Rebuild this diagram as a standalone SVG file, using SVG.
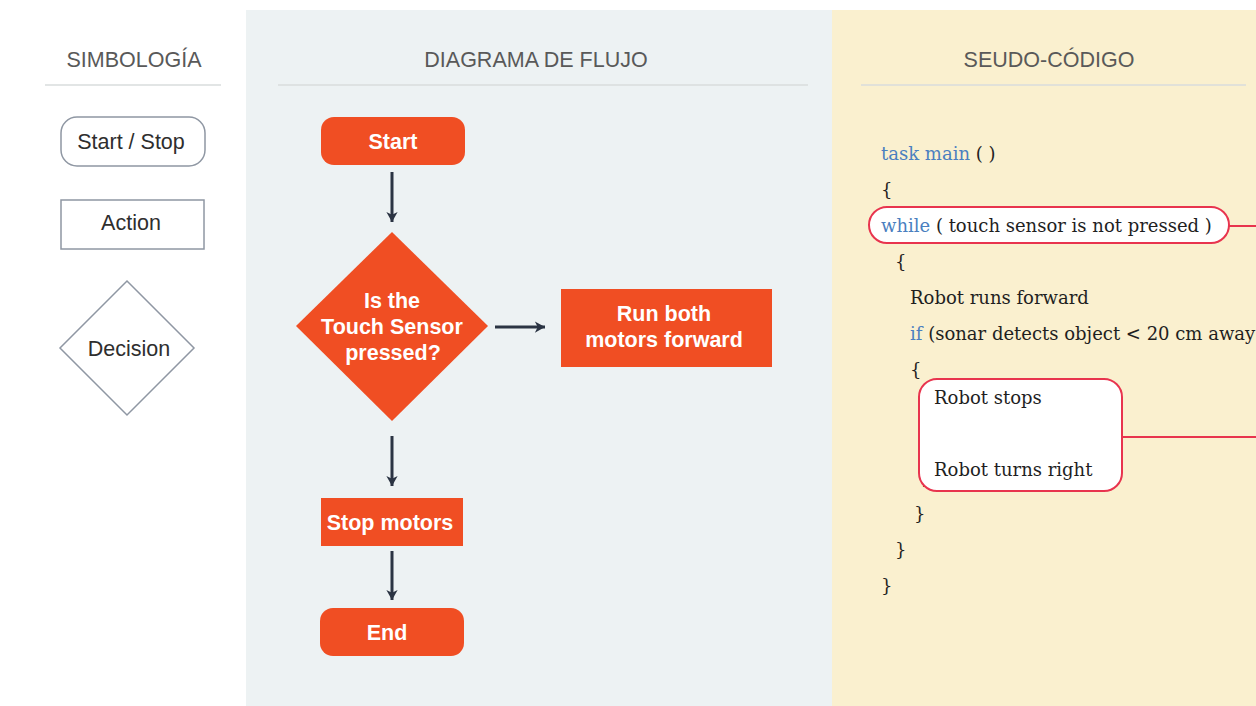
<svg xmlns="http://www.w3.org/2000/svg" width="1256" height="706" viewBox="0 0 1256 706">
  <style>
    .head { font-family: "Liberation Sans", Arial, sans-serif; font-size: 21.5px; fill: #595959; text-anchor: middle; }
    .rule { stroke: #d9dcdd; stroke-width: 1.5; }
    .legend-shape { fill: #ffffff; stroke: #8f97a3; stroke-width: 1.5; }
    .legend-text { font-family: "Liberation Sans", Arial, sans-serif; font-size: 21.5px; fill: #2e2e2e; text-anchor: middle; }
    .node { fill: #f04e23; }
    .node-text { font-family: "Liberation Sans", Arial, sans-serif; font-size: 21.5px; font-weight: bold; fill: #ffffff; text-anchor: middle; }
    .edge { stroke: #2b3443; stroke-width: 3; fill: none; marker-end: url(#arrow); }
    .code { font-family: "DejaVu Serif", "Liberation Serif", serif; font-size: 18px; fill: #1f1f1f; }
    .kw { fill: #4a7fc0; }
    .hl { fill: #ffffff; stroke: #e8344e; stroke-width: 2; }
    .hl-link { stroke: #e8344e; stroke-width: 2; }
  </style>
  <defs>
    <marker id="arrow" viewBox="0 0 12 12" refX="10" refY="6" markerWidth="4.5" markerHeight="4.5" markerUnits="strokeWidth" orient="auto">
      <path d="M1,1 L10,6 L1,11 L3.5,6 Z" fill="#2b3443"/>
    </marker>
  </defs>

  <!-- page background and panels -->
  <rect x="0" y="0" width="1256" height="706" fill="#ffffff"/>
  <rect x="246" y="10" width="586" height="696" fill="#edf2f3"/>
  <rect x="832" y="10" width="424" height="696" fill="#faf0cf"/>

  <!-- column headers -->
  <g id="headers">
    <text class="head" x="134" y="67">SIMBOLOGÍA</text>
    <line class="rule" x1="45" y1="85" x2="221" y2="85"/>
    <text class="head" x="536" y="67">DIAGRAMA DE FLUJO</text>
    <line class="rule" x1="278" y1="85" x2="808" y2="85"/>
    <text class="head" x="1049" y="67">SEUDO-CÓDIGO</text>
    <line class="rule" x1="861" y1="85" x2="1246" y2="85"/>
  </g>

  <!-- legend -->
  <g id="legend-start-stop">
    <rect class="legend-shape" x="61" y="117" width="144" height="49" rx="16"/>
    <text class="legend-text" x="131" y="149">Start / Stop</text>
  </g>
  <g id="legend-action">
    <rect class="legend-shape" x="61" y="200" width="143" height="49"/>
    <text class="legend-text" x="131" y="230">Action</text>
  </g>
  <g id="legend-decision">
    <polygon class="legend-shape" points="127,281 194,348 127,415 60,348"/>
    <text class="legend-text" x="129" y="356">Decision</text>
  </g>

  <!-- flowchart connectors -->
  <g id="connectors">
    <line class="edge" x1="392" y1="172" x2="392" y2="222"/>
    <line class="edge" x1="495" y1="327" x2="545" y2="327"/>
    <line class="edge" x1="392" y1="436" x2="392" y2="486"/>
    <line class="edge" x1="392" y1="551" x2="392" y2="600"/>
  </g>

  <!-- flowchart nodes -->
  <g id="node-start">
    <rect class="node" x="321" y="117" width="144" height="48" rx="13"/>
    <text class="node-text" x="393" y="149">Start</text>
  </g>
  <g id="node-decision">
    <polygon class="node" points="392,232 488,326 392,421 296,326"/>
    <text class="node-text" x="392" y="308">Is the</text>
    <text class="node-text" x="392" y="334">Touch Sensor</text>
    <text class="node-text" x="393" y="360">pressed?</text>
  </g>
  <g id="node-run">
    <rect class="node" x="561" y="289" width="211" height="78"/>
    <text class="node-text" x="664" y="321">Run both</text>
    <text class="node-text" x="664" y="347">motors forward</text>
  </g>
  <g id="node-stop">
    <rect class="node" x="321" y="498" width="142" height="48"/>
    <text class="node-text" x="390" y="530">Stop motors</text>
  </g>
  <g id="node-end">
    <rect class="node" x="320" y="608" width="144" height="48" rx="13"/>
    <text class="node-text" x="387" y="640">End</text>
  </g>

  <!-- pseudo-code -->
  <g id="pseudocode">
    <text class="code" x="881" y="160"><tspan class="kw">task main</tspan> ( )</text>
    <text class="code" x="881" y="196">{</text>
    <rect class="hl" x="869" y="207" width="360" height="36" rx="18"/>
    <line class="hl-link" x1="1229" y1="226" x2="1256" y2="226"/>
    <text class="code" x="881" y="232"><tspan class="kw">while</tspan> ( touch sensor is not pressed )</text>
    <text class="code" x="895" y="268">{</text>
    <text class="code" x="910" y="304">Robot runs forward</text>
    <text class="code" x="910" y="340"><tspan class="kw">if</tspan> (sonar detects object &lt; 20 cm away</text>
    <text class="code" x="910" y="376">{</text>
    <text class="code" x="921" y="484">}</text>
    <rect class="hl" x="919" y="379" width="203" height="112" rx="18"/>
    <line class="hl-link" x1="1122" y1="437" x2="1256" y2="437"/>
    <text class="code" x="934" y="404">Robot stops</text>
    <text class="code" x="934" y="476">Robot turns right</text>
    <text class="code" x="914" y="520">}</text>
    <text class="code" x="895" y="556">}</text>
    <text class="code" x="881" y="592">}</text>
  </g>
</svg>
